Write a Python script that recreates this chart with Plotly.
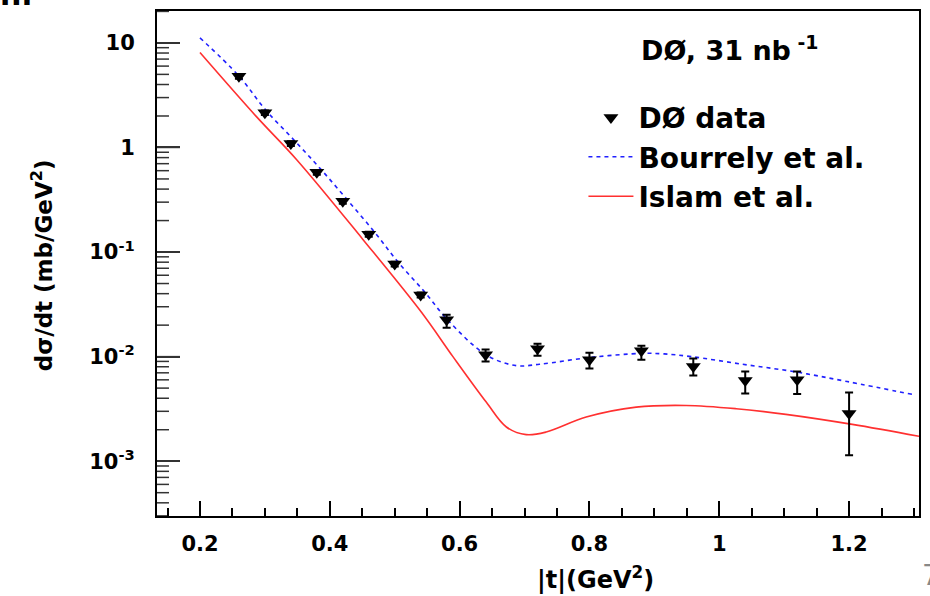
import plotly.graph_objects as go

# ---------------- data ----------------
t_data = [0.26, 0.30, 0.34, 0.38, 0.42, 0.46, 0.50, 0.54, 0.58, 0.64,
          0.72, 0.80, 0.88, 0.96, 1.04, 1.12, 1.20]
dsdt_data = [4.8, 2.15, 1.09, 0.578, 0.306, 0.148, 0.0769, 0.0389, 0.0225, 0.01045,
             0.0119, 0.00936, 0.0114, 0.00803, 0.0059, 0.0060, 0.00286]
err_up = [0.25, 0.11, 0.055, 0.03, 0.016, 0.008, 0.004, 0.0021, 0.0026, 0.00122,
          0.0014, 0.00154, 0.0013, 0.00154, 0.0013, 0.0012, 0.00168]
err_down = [0.25, 0.11, 0.055, 0.03, 0.016, 0.008, 0.004, 0.0021, 0.0036, 0.00149,
            0.0017, 0.00166, 0.00205, 0.00144, 0.00145, 0.0016, 0.00172]

bourrely_t = [0.20, 0.26, 0.301, 0.346, 0.386, 0.426, 0.469, 0.505, 0.546, 0.582,
              0.641, 0.687, 0.723, 0.802, 0.881, 0.915, 0.957, 1.036, 1.115, 1.197, 1.30]
bourrely_v = [11.17, 4.82, 2.29, 1.158, 0.621, 0.321, 0.155, 0.0804, 0.0416, 0.0223,
              0.01038, 0.0082, 0.00845, 0.00984, 0.01074, 0.01062, 0.0100, 0.00845,
              0.00719, 0.00578, 0.00432]

islam_t = [0.20, 0.287, 0.349, 0.451, 0.5415, 0.5897, 0.641, 0.672, 0.7026, 0.7334,
           0.795, 0.872, 0.949, 1.026, 1.1026, 1.205, 1.3077]
islam_v = [8.09, 1.972, 0.764, 0.1321, 0.02642, 0.0100, 0.003673, 0.002123, 0.001795,
           0.001901, 0.002642, 0.003289, 0.003412, 0.003177, 0.002805, 0.002249, 0.00173]

x_tickvals = [0.2, 0.4, 0.6, 0.8, 1.0, 1.2]
x_ticktext = ["0.2", "0.4", "0.6", "0.8", "1", "1.2"]
y_tickvals = [1e-3, 1e-2, 1e-1, 1, 10]
y_ticktext = ["10<sup>-3</sup>", "10<sup>-2</sup>", "10<sup>-1</sup>", "1", "10"]
y_decades = [-4, -3, -2, -1, 0, 1]
y_minor_digits = [2, 3, 4, 5, 6, 7, 8, 9]

FONT = "DejaVu Sans"
X_RANGE = [0.1338, 1.3077]
Y_RANGE = [-3.524, 1.305]

L, R, T, B = 157, 10, 9, 80
W, H = 930, 596
pw, ph = W - L - R, H - T - B

y_minor_vals = [d * 10.0 ** e for e in y_decades for d in y_minor_digits
                if Y_RANGE[0] < __import__("math").log10(d * 10.0 ** e) < Y_RANGE[1]]

# ---------------- figure ----------------
fig = go.Figure()

# y-axis tick marks drawn as a line trace from the tick value lists
x_per_px = (X_RANGE[1] - X_RANGE[0]) / pw
tick_x, tick_y = [], []
for v in y_tickvals:
    tick_x += [X_RANGE[0], X_RANGE[0] + 23 * x_per_px, None]
    tick_y += [v, v, None]
for v in y_minor_vals:
    tick_x += [X_RANGE[0], X_RANGE[0] + 12 * x_per_px, None]
    tick_y += [v, v, None]
fig.add_trace(go.Scatter(
    x=tick_x, y=tick_y, mode="lines", line=dict(color="#333", width=1.5),
    showlegend=False, hoverinfo="skip", connectgaps=False, cliponaxis=False))

fig.add_trace(go.Scatter(
    x=bourrely_t, y=bourrely_v, mode="lines", name="Bourrely et al.",
    line=dict(color="#2020ff", width=1.6, dash="4px,4px", shape="spline"),
    legendrank=2))
fig.add_trace(go.Scatter(
    x=islam_t, y=islam_v, mode="lines", name="Islam et al.",
    line=dict(color="#ff3030", width=1.6, shape="spline"),
    legendrank=3))
fig.add_trace(go.Scatter(
    x=t_data, y=dsdt_data, mode="markers", name="DØ data",
    marker=dict(symbol="triangle-down", size=13, color="black"),
    error_y=dict(type="data", symmetric=False, array=err_up, arrayminus=err_down,
                 color="black", thickness=2, width=4),
    legendrank=1))


def px(xp):
    return (xp - L) / pw


def py(yp):
    return (H - B - yp) / ph


fig.update_layout(
    width=W, height=H,
    margin=dict(l=L, r=R, t=T, b=B, pad=0),
    paper_bgcolor="white", plot_bgcolor="white",
    font=dict(family=FONT, color="black", weight="bold"),
    showlegend=True,
    legend=dict(x=px(584), y=py(91), xanchor="left", yanchor="top",
                bgcolor="rgba(0,0,0,0)", borderwidth=0,
                font=dict(family=FONT, size=28, color="black", weight="bold"),
                itemwidth=45, traceorder="normal"),
)

fig.update_xaxes(
    range=X_RANGE, showgrid=False, zeroline=False,
    showline=True, linecolor="black", linewidth=2, mirror=True,
    ticks="inside", ticklen=15, tickwidth=1.5, tickcolor="black",
    tickvals=x_tickvals, ticktext=x_ticktext,
    tickfont=dict(family=FONT, size=21, color="black", weight="bold"),
    ticklabelstandoff=8,
    minor=dict(dtick=0.05, tick0=0, ticks="inside", ticklen=8, tickwidth=1.5,
               tickcolor="black", showgrid=False),
)
fig.update_yaxes(
    type="log", range=Y_RANGE, showgrid=False, zeroline=False,
    showline=True, linecolor="black", linewidth=2, mirror=True,
    ticks="inside", ticklen=23, tickwidth=1.5, tickcolor="#333",
    tickmode="array", tickvals=y_tickvals, ticktext=y_ticktext,
    tickfont=dict(family=FONT, size=21, color="black", weight="bold"),
    ticklabelstandoff=16,
)

# axis titles (ROOT style: x title right-shifted)
fig.add_annotation(xref="paper", yref="paper", x=px(596), y=py(578),
                   text="|t|(GeV<sup>2</sup>)", showarrow=False,
                   xanchor="center", yanchor="middle",
                   font=dict(family=FONT, size=24, color="black", weight="bold"))
fig.add_annotation(xref="paper", yref="paper", x=px(42), y=py(264),
                   text="dσ/dt (mb/GeV<sup>2</sup>)", showarrow=False, textangle=-90,
                   xanchor="center", yanchor="middle",
                   font=dict(family=FONT, size=23, color="black", weight="bold"))

# header text
fig.add_annotation(xref="paper", yref="paper", x=px(640), y=py(47),
                   text="DØ, 31 nb<sup> -1</sup>", showarrow=False,
                   xanchor="left", yanchor="middle",
                   font=dict(family=FONT, size=27, color="black", weight="bold"))

# slide fragments
fig.add_annotation(xref="paper", yref="paper", x=px(-2), y=py(12),
                   text="n.", showarrow=False, xanchor="left", yanchor="bottom",
                   font=dict(family=FONT, size=30, color="black", weight="bold"))
fig.add_annotation(xref="paper", yref="paper", x=px(921), y=py(576),
                   text="7", showarrow=False, xanchor="left", yanchor="middle",
                   font=dict(family=FONT, size=28, color="#888888", weight="normal"))

fig.write_html("out.html")
